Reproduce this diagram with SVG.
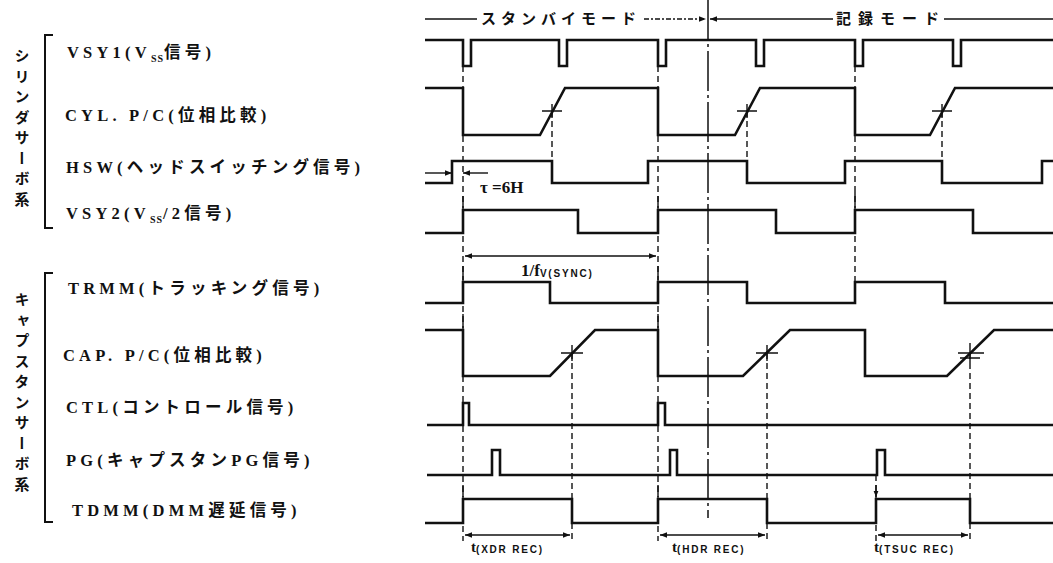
<svg xmlns="http://www.w3.org/2000/svg" width="1053" height="563" viewBox="0 0 1053 563">
<style>
.lbl{font-family:"Liberation Serif","Noto Sans CJK JP",serif;font-weight:bold;font-size:16.5px;letter-spacing:4.2px;fill:#111}
.sub{font-size:10px;letter-spacing:1px}
.vt{font-family:"Noto Sans CJK JP",sans-serif;font-weight:bold;font-size:15px;letter-spacing:5.5px;fill:#111;writing-mode:vertical-rl}
.hdr{font-family:"Noto Sans CJK JP",sans-serif;font-weight:bold;font-size:15px;letter-spacing:5px;fill:#111}
.hdr2{letter-spacing:7px}
.sig{fill:none;stroke:#111;stroke-width:2.6;stroke-linejoin:miter}
.dash{fill:none;stroke:#111;stroke-width:1.4;stroke-dasharray:6 4}
.thin{fill:none;stroke:#111;stroke-width:1.4}
.dim{fill:none;stroke:#111;stroke-width:1.4;marker-start:url(#ah);marker-end:url(#ah)}
.br{fill:none;stroke:#111;stroke-width:2}
.math{font-family:"Liberation Serif",serif;font-weight:bold;font-size:17px;fill:#111}
.tl{font-family:"Liberation Serif",serif;font-weight:bold;font-size:15px;fill:#111}
.ts{font-family:"Liberation Sans",sans-serif;font-weight:bold;font-size:10px;letter-spacing:1.8px}
</style>
<defs>
<marker id="ah" viewBox="0 0 10 10" refX="10" refY="5" markerWidth="9" markerHeight="7" markerUnits="userSpaceOnUse" orient="auto-start-reverse">
<path d="M0,1 L10,5 L0,9 Z" fill="#111"/>
</marker>
<marker id="ad" viewBox="0 0 10 10" refX="10" refY="5" markerWidth="7" markerHeight="6" markerUnits="userSpaceOnUse" orient="auto">
<path d="M0,1 L10,5 L0,9 Z" fill="#111"/>
</marker>
</defs>

<g id="group-cylinder">
<path class="br" d="M53,35 H45 V228 H53"/>
<text class="vt" x="22" y="48">シリンダサーボ系</text>
</g>
<g id="group-capstan">
<path class="br" d="M53,273 H45 V522 H53"/>
<text class="vt" x="22" y="292">キャプスタンサーボ系</text>
</g>

<g id="mode-header">
<line class="thin" x1="425" y1="19" x2="477" y2="19"/>
<text class="hdr" x="481" y="24">スタンバイモード</text>
<line class="thin" x1="644" y1="19" x2="706" y2="19" stroke-dasharray="5 2 2 2" marker-end="url(#ah)"/>
<line class="thin" x1="833" y1="19" x2="710" y2="19" marker-end="url(#ah)"/>
<text class="hdr hdr2" x="836" y="24">記録モード</text>
<line class="thin" x1="944" y1="19" x2="1053" y2="19"/>
</g>

<g id="sig-vsy1">
<text class="lbl" x="67" y="58">VSY1(V<tspan class="sub" dy="4">SS</tspan><tspan dy="-4">信号)</tspan></text>
<path class="sig" d="M425,40 H463 V66 H471 V40 H559 V66 H567 V40 H658 V66 H666 V40 H756 V66 H764 V40 H855 V66 H863 V40 H953 V66 H961 V40 H1053"/>
</g>
<g id="sig-cylpc">
<text class="lbl" x="65" y="121">CYL. P/C(位相比較)</text>
<path class="sig" d="M425,88 H463 V135 H540 L565,88 H658 V135 H735 L760,88 H855 V135 H930 L955,88 H1053"/>
<path class="thin" stroke-width="1.8" d="M542,111 H562 M552,104 V118 M737,111 H757 M747,104 V118 M932,111 H952 M942,104 V118"/>
</g>
<g id="sig-hsw">
<text class="lbl" x="66" y="173">HSW(ヘッドスイッチング信号)</text>
<path class="sig" d="M425,183 H452 V161 H552 V183 H648 V161 H747 V183 H845 V161 H942 V183 H1042 V161 H1053"/>
<line class="thin" x1="425" y1="173" x2="452" y2="173" marker-end="url(#ah)"/>
<line class="thin" x1="488" y1="173" x2="463" y2="173" marker-end="url(#ah)"/>
<text class="math" x="480" y="193">τ =6H</text>
</g>
<g id="sig-vsy2">
<text class="lbl" x="66" y="219">VSY2(V<tspan class="sub" dy="4">SS</tspan><tspan dy="-4">/2信号)</tspan></text>
<path class="sig" d="M425,233 H463 V210 H578 V233 H658 V210 H776 V233 H855 V210 H973 V233 H1053"/>
<line class="dim" x1="465" y1="256" x2="656" y2="256"/>
<text class="math" x="521" y="276">1/f<tspan class="ts" dy="1">V(SYNC)</tspan></text>
</g>
<g id="sig-trmm">
<text class="lbl" x="68" y="294">TRMM(トラッキング信号)</text>
<path class="sig" d="M425,303 H463 V282 H550 V303 H658 V282 H747 V303 H855 V282 H945 V303 H1053"/>
</g>
<g id="sig-cappc">
<text class="lbl" x="63" y="361">CAP. P/C(位相比較)</text>
<path class="sig" d="M425,330 H463 V376 H550 L595,330 H658 V376 H743 L790,330 H865 V376 H947 L994,330 H1053"/>
<path class="thin" stroke-width="1.8" d="M561,353 H583 M572,345 V361 M756,353 H778 M767,345 V361 M958,353 H984 M960,358 H980 M970,343 V363"/>
</g>
<g id="sig-ctl">
<text class="lbl" x="66" y="413">CTL(コントロール信号)</text>
<path class="sig" d="M427,425 H463 V403 H469 V425 H658 V403 H665 V425 H1053"/>
</g>
<g id="sig-pg">
<text class="lbl" x="66" y="466">PG(キャプスタンPG信号)</text>
<path class="sig" d="M427,475 H492 V450 H500 V475 H670 V450 H677 V475 H877 V450 H885 V475 H1053"/>
</g>
<g id="sig-tdmm">
<text class="lbl" x="72" y="516">TDMM(DMM遅延信号)</text>
<path class="sig" d="M425,523 H463 V499 H572 V523 H658 V499 H767 V523 H876 V499 H970 V523 H1053"/>
<line class="dim" x1="465" y1="535" x2="570" y2="535"/>
<line class="dim" x1="660" y1="535" x2="765" y2="535"/>
<line class="dim" x1="878" y1="535" x2="968" y2="535"/>
<text class="tl" x="471" y="552">t<tspan class="ts" dy="1">(XDR REC)</tspan></text>
<text class="tl" x="672" y="552">t<tspan class="ts" dy="1">(HDR REC)</tspan></text>
<text class="tl" x="874" y="552">t<tspan class="ts" dy="1">(TSUC REC)</tspan></text>
</g>

<g id="connectors">
<line x1="708" y1="0" x2="708" y2="518" stroke="#111" stroke-width="1.5" stroke-dasharray="40 4 3 4"/>
<line class="dash" x1="463" y1="66" x2="463" y2="541"/>
<line class="dash" x1="658" y1="66" x2="658" y2="541"/>
<line class="dash" x1="855" y1="66" x2="855" y2="303"/>
<line class="dash" x1="552" y1="111" x2="552" y2="161"/>
<line class="dash" x1="747" y1="111" x2="747" y2="161"/>
<line class="dash" x1="942" y1="111" x2="942" y2="161"/>
<line class="dash" x1="572" y1="353" x2="572" y2="541"/>
<line class="dash" x1="767" y1="353" x2="767" y2="541"/>
<line class="dash" x1="970" y1="353" x2="970" y2="541"/>
<line class="dash" x1="876" y1="475" x2="876" y2="541"/>
<path class="thin" d="M463,196 V208 M463,266 V280 M463,314 V328 M463,485 V497 M658,196 V208 M658,266 V280 M658,314 V328 M658,485 V497 M855,192 V208 M876,485 V497" marker-end="url(#ad)"/>
</g>
</svg>
